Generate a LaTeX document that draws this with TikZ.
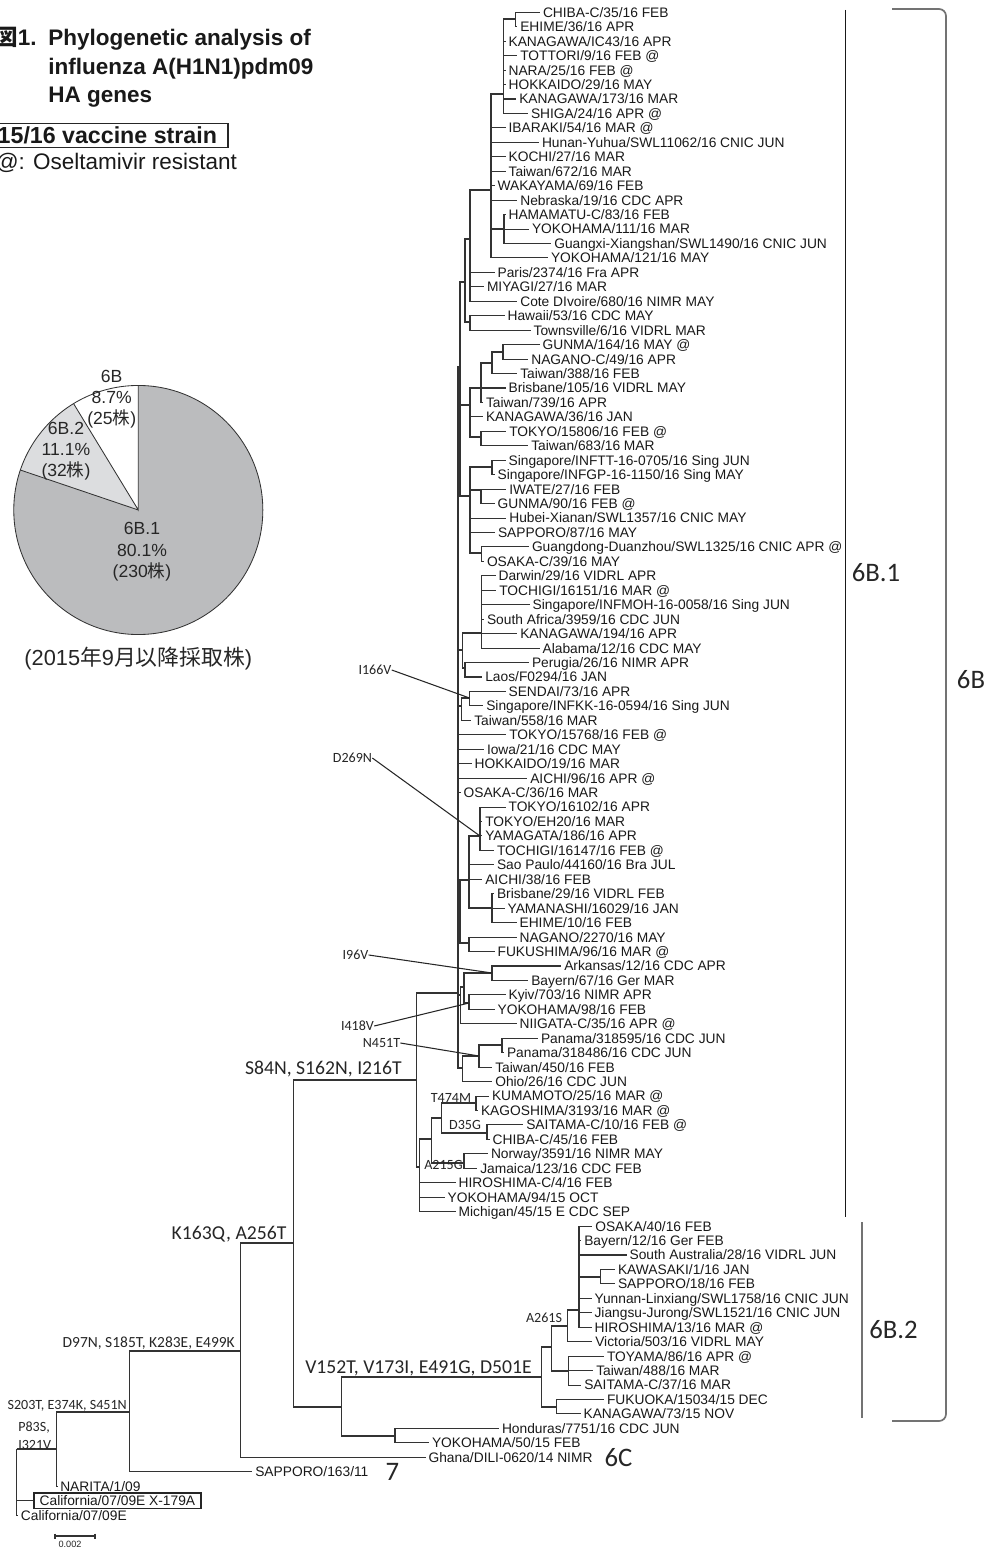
\documentclass[tikz,border=0pt]{standalone}
\usepackage{fontspec}
\setmainfont{Liberation Sans}
\newfontfamily\calibfont{Carlito}
\newfontfamily\jpfont{Noto Sans CJK JP}

\tikzset{
  branch/.style={draw=black!80, line width=0.75pt},
  leaf/.style={anchor=west, inner xsep=2pt, inner ysep=0pt, text height=7pt, text depth=0pt, text=black!90, font=\fontsize{9.8}{10}\selectfont},
  vacleaf/.style={leaf, draw=black!85, line width=1.1pt, inner xsep=4pt, inner ysep=2pt},
  vacbox/.style={draw=black!85, line width=1.1pt, anchor=east, inner xsep=8pt, inner ysep=2.5pt, text height=11.8pt, text depth=0pt, text=black!90, font=\bfseries\fontsize{16.5}{18}\selectfont},
  mutbig/.style={inner sep=0pt, text=black!85, font=\calibfont\fontsize{14}{16}\selectfont},
  mutmid/.style={inner sep=0pt, text=black!85, font=\calibfont\fontsize{11}{13}\selectfont},
  mutsmall/.style={inner sep=0pt, text=black!85, font=\calibfont\fontsize{10}{13}\selectfont},
  pointer/.style={draw=black!85, line width=0.75pt},
  cladelab/.style={inner sep=0pt, text=black!85, font=\calibfont\fontsize{19}{21}\selectfont},
  pielab/.style={inner sep=0pt, align=center, text=black!85, font=\fontsize{12.5}{15}\selectfont},
  titletext/.style={inner sep=0pt, anchor=base west, text=black!90, font=\bfseries\fontsize{16}{19}\selectfont},
}
\definecolor{pieone}{RGB}{187,188,190}
\definecolor{pietwo}{RGB}{220,221,223}

\begin{document}
\begin{tikzpicture}[x=0.025cm, y=-0.025cm]
  \useasboundingbox (0,0) rectangle (989,1549);

  \node[titletext, anchor=base east] (fig) at (37,46) {{\jpfont 図}1.};
  \node[titletext] (title1) at (48,46) {Phylogenetic analysis of};
  \node[titletext] (title2) at (48,75) {influenza A(H1N1)pdm09};
  \node[titletext] (title3) at (48,103) {HA genes};
  \node[vacbox] (vaccine) at (229,135.5) {15/16 vaccine strain};
  \node[anchor=west, inner sep=0pt, text=black!90, font=\fontsize{16}{18}\selectfont] (resist) at (-4.5,163) {@: Oseltamivir resistant};

  \begin{scope}[shift={(138.3,510)}, x=0.025cm, y=0.025cm, draw=black!80, line width=0.6pt]
    \fill[pieone] (0,0) -- (161.28:124.5) arc[start angle=161.28, end angle=450, radius=3.1125cm] -- cycle;
    \fill[pietwo] (0,0) -- (121.32:124.5) arc[start angle=121.32, end angle=161.28, radius=3.1125cm] -- cycle;
    \draw (0,0) circle[radius=3.1125cm];
    \draw (90:124.5) -- (0,0) -- (121.32:124.5) (0,0) -- (161.28:124.5);
  \end{scope}
  \node[pielab] (pie6b) at (111.7,399.5) {6B\\8.7\%\\(25{\jpfont 株})};
  \node[pielab] (pie6b2) at (66,450.8) {6B.2\\11.1\%\\(32{\jpfont 株})};
  \node[pielab] (pie6b1) at (142,551.7) {6B.1\\80.1\%\\(230{\jpfont 株})};
  \node[inner sep=0pt, text=black!85, font=\fontsize{15.5}{17}\selectfont] (piecap) at (138.3,658.3) {(2015{\jpfont 年}9{\jpfont 月以降採取株})};

  \foreach \i/\x/\s in {1/542.7/{CHIBA-C/35/16 FEB}, 2/520/{EHIME/36/16 APR}, 3/508.3/{KANAGAWA/IC43/16 APR},
      4/520/{TOTTORI/9/16 FEB @}, 5/508.3/{NARA/25/16 FEB @}, 6/508.3/{HOKKAIDO/29/16 MAY},
      7/519/{KANAGAWA/173/16 MAR}, 8/530.7/{SHIGA/24/16 APR @}, 9/508.3/{IBARAKI/54/16 MAR @},
      10/541.7/{Hunan-Yuhua/SWL11062/16 CNIC JUN}, 11/508.3/{KOCHI/27/16 MAR}, 12/508.3/{Taiwan/672/16 MAR},
      13/497.3/{WAKAYAMA/69/16 FEB}, 14/520/{Nebraska/19/16 CDC APR}, 15/508.3/{HAMAMATU-C/83/16 FEB},
      16/531.7/{YOKOHAMA/111/16 MAR}, 17/554/{Guangxi-Xiangshan/SWL1490/16 CNIC JUN}, 18/550.7/{YOKOHAMA/121/16 MAY},
      19/497.3/{Paris/2374/16 Fra APR}, 20/486.7/{MIYAGI/27/16 MAR}, 21/520/{Cote DIvoire/680/16 NIMR MAY},
      22/507.3/{Hawaii/53/16 CDC MAY}, 23/533.3/{Townsville/6/16 VIDRL MAR}, 24/542.3/{GUNMA/164/16 MAY @},
      25/531/{NAGANO-C/49/16 APR}, 26/520/{Taiwan/388/16 FEB}, 27/508.3/{Brisbane/105/16 VIDRL MAY},
      28/485.7/{Taiwan/739/16 APR}, 29/485.7/{KANAGAWA/36/16 JAN}, 30/509/{TOKYO/15806/16 FEB @},
      31/531/{Taiwan/683/16 MAR}, 32/508.3/{Singapore/INFTT-16-0705/16 Sing JUN}, 33/497.3/{Singapore/INFGP-16-1150/16 Sing MAY},
      34/509/{IWATE/27/16 FEB}, 35/497.3/{GUNMA/90/16 FEB @}, 36/509/{Hubei-Xianan/SWL1357/16 CNIC MAY},
      37/497.7/{SAPPORO/87/16 MAY}, 38/531.7/{Guangdong-Duanzhou/SWL1325/16 CNIC APR @}, 39/486.7/{OSAKA-C/39/16 MAY},
      40/498.3/{Darwin/29/16 VIDRL APR}, 41/499/{TOCHIGI/16151/16 MAR @}, 42/532.3/{Singapore/INFMOH-16-0058/16 Sing JUN},
      43/486.7/{South Africa/3959/16 CDC JUN}, 44/520/{KANAGAWA/194/16 APR}, 45/542.3/{Alabama/12/16 CDC MAY},
      46/531.7/{Perugia/26/16 NIMR APR}, 47/485/{Laos/F0294/16 JAN}, 48/508.3/{SENDAI/73/16 APR},
      49/486/{Singapore/INFKK-16-0594/16 Sing JUN}, 50/474/{Taiwan/558/16 MAR}, 51/509/{TOKYO/15768/16 FEB @},
      52/486.7/{Iowa/21/16 CDC MAY}, 53/474.3/{HOKKAIDO/19/16 MAR}, 54/530/{AICHI/96/16 APR @},
      55/463.3/{OSAKA-C/36/16 MAR}, 56/508.3/{TOKYO/16102/16 APR}, 57/485/{TOKYO/EH20/16 MAR},
      58/485/{YAMAGATA/186/16 APR}, 59/496.7/{TOCHIGI/16147/16 FEB @}, 60/496.7/{Sao Paulo/44160/16 Bra JUL},
      61/485/{AICHI/38/16 FEB}, 62/496.7/{Brisbane/29/16 VIDRL FEB}, 63/507.3/{YAMANASHI/16029/16 JAN},
      64/519.3/{EHIME/10/16 FEB}, 65/519.3/{NAGANO/2270/16 MAY}, 66/497.3/{FUKUSHIMA/96/16 MAR @},
      67/564/{Arkansas/12/16 CDC APR}, 68/531/{Bayern/67/16 Ger MAR}, 69/508.3/{Kyiv/703/16 NIMR APR},
      70/497.3/{YOKOHAMA/98/16 FEB}, 71/519.3/{NIIGATA-C/35/16 APR @}, 72/540.7/{Panama/318595/16 CDC JUN},
      73/506.7/{Panama/318486/16 CDC JUN}, 74/495/{Taiwan/450/16 FEB}, 75/495/{Ohio/26/16 CDC JUN},
      76/491.7/{KUMAMOTO/25/16 MAR @}, 77/480.7/{KAGOSHIMA/3193/16 MAR @}, 78/526/{SAITAMA-C/10/16 FEB @},
      79/492.3/{CHIBA-C/45/16 FEB}, 80/490.7/{Norway/3591/16 NIMR MAY}, 81/480/{Jamaica/123/16 CDC FEB},
      82/458.3/{HIROSHIMA-C/4/16 FEB}, 83/447.3/{YOKOHAMA/94/15 OCT}, 84/458.3/{Michigan/45/15 E CDC SEP},
      85/595/{OSAKA/40/16 FEB}, 86/584/{Bayern/12/16 Ger FEB}, 87/629.3/{South Australia/28/16 VIDRL JUN},
      88/617.7/{KAWASAKI/1/16 JAN}, 89/617.7/{SAPPORO/18/16 FEB}, 90/594.3/{Yunnan-Linxiang/SWL1758/16 CNIC JUN},
      91/594.3/{Jiangsu-Jurong/SWL1521/16 CNIC JUN}, 92/594.3/{HIROSHIMA/13/16 MAR @}, 93/595/{Victoria/503/16 VIDRL MAY},
      94/606.7/{TOYAMA/86/16 APR @}, 95/596/{Taiwan/488/16 MAR}, 96/584/{SAITAMA-C/37/16 MAR},
      97/606.7/{FUKUOKA/15034/15 DEC}, 98/583.3/{KANAGAWA/73/15 NOV}, 99/501.7/{Honduras/7751/16 CDC JUN},
      100/431.7/{YOKOHAMA/50/15 FEB}, 101/428.3/{Ghana/DILI-0620/14 NIMR}, 102/255/{SAPPORO/163/11},
      103/60/{NARITA/1/09}, 105/20.7/{California/07/09E}}
  {
    \node[leaf] (l\i) at ({\x-2.8},{12.3+(\i-1)*14.45}) {\s};
  }
  \node[vacleaf] (l104) at (33.3,{12.3+103*14.45}) {California/07/09E X-179A};

  \coordinate (n1) at (515.7,19);
  \coordinate (n2) at (503.3,94);
  \coordinate (n3) at (491,190);
  \coordinate (n4) at (504,229);
  \coordinate (nD) at (470,239);
  \coordinate (nHw) at (470,322);
  \coordinate (nC) at (465,282);
  \coordinate (nGun) at (503,352);
  \coordinate (nGunB) at (492,363);
  \coordinate (nGunC) at (481,388);
  \coordinate (nTok) at (481,437);
  \coordinate (nJ) at (470,405);
  \coordinate (nSing) at (492,467);
  \coordinate (nIW) at (481,490);
  \coordinate (nGD) at (481.7,553);
  \coordinate (nK) at (470,496);
  \coordinate (nI) at (460,367);
  \coordinate (nDar) at (481.7,633);
  \coordinate (nPer) at (465,668);
  \coordinate (nDP) at (462.5,650);
  \coordinate (nSen) at (469.5,698);
  \coordinate (nSenB) at (461.7,706);
  \coordinate (nTokB) at (480,836);
  \coordinate (nBris) at (492,908);
  \coordinate (nA) at (469,880);
  \coordinate (nNag) at (469,943);
  \coordinate (nB) at (460,912);
  \coordinate (nArk) at (492,973);
  \coordinate (nKy) at (469,1003);
  \coordinate (nAK) at (464,987);
  \coordinate (nN) at (460.7,995);
  \coordinate (nPan) at (502,1045);
  \coordinate (nPanB) at (479,1056);
  \coordinate (nO) at (462.7,1068);
  \coordinate (nS) at (458,993);
  \coordinate (nKum) at (476,1103);
  \coordinate (nSai) at (487,1133);
  \coordinate (nH) at (441.7,1118);
  \coordinate (nNor) at (464,1163);
  \coordinate (nG) at (431.7,1139);
  \coordinate (nF) at (419.3,1167);
  \coordinate (nE) at (416.7,1080);
  \coordinate (nKaw) at (600.7,1277);
  \coordinate (nP) at (579,1310);
  \coordinate (nV) at (567.3,1326);
  \coordinate (nToy) at (568.3,1371);
  \coordinate (nQ) at (551.7,1347);
  \coordinate (nFuk) at (556.7,1407);
  \coordinate (nR) at (541.7,1377);
  \coordinate (nHon) at (395,1436);
  \coordinate (nT) at (341.7,1407);
  \coordinate (nU) at (293.3,1243);
  \coordinate (nW) at (240.7,1351);
  \coordinate (nX) at (129.3,1412);
  \coordinate (nY) at (56.7,1449);
  \coordinate (root) at (16.7,1449);

  \foreach \p/\cs in {n1/{1,2}, n2/{3,...,8}, n3/{9,...,14,18}, n4/{15,16,17}, nD/{19,20,21}, nHw/{22,23},
      nGun/{24,25}, nGunB/{26}, nGunC/{27,28}, nJ/{29}, nTok/{30,31}, nSing/{32,33}, nIW/{34,35},
      nK/{36,37}, nGD/{38,39}, nDar/{40,...,45}, nPer/{46,47}, nSen/{48,49}, nSenB/{50}, nS/{51,...,55},
      nTokB/{56,...,59}, nA/{60,61}, nBris/{62,63,64}, nNag/{65,66}, nArk/{67,68}, nKy/{69,70}, nN/{71},
      nPan/{72,73}, nPanB/{74}, nO/{75}, nKum/{76,77}, nSai/{78,79}, nNor/{80,81}, nF/{82,83,84},
      nP/{85,86,87,90,91,92}, nKaw/{88,89}, nV/{93}, nToy/{94,95,96}, nFuk/{97,98}, nHon/{99,100},
      nW/{101}, nX/{102}, nY/{103}, root/{104,105}}
  {
    \foreach \c in \cs
      \draw[branch] (\p) |- (l\c.west);
  }
  \foreach \p/\c in {n2/n1, n3/n2, n3/n4, nD/n3, nC/nD, nC/nHw, nGunB/nGun, nGunC/nGunB, nJ/nGunC, nJ/nTok,
      nK/nSing, nK/nIW, nK/nGD, nI/nC, nI/nJ, nI/nK, nDP/nDar, nDP/nPer, nSenB/nSen, nA/nTokB, nA/nBris,
      nB/nA, nB/nNag, nAK/nArk, nAK/nKy, nN/nAK, nPanB/nPan, nO/nPanB, nS/nI, nS/nDP, nS/nSenB, nS/nB,
      nS/nN, nS/nO, nH/nKum, nH/nSai, nG/nH, nG/nNor, nF/nG, nE/nS, nE/nF, nP/nKaw, nV/nP, nQ/nV,
      nQ/nToy, nR/nQ, nR/nFuk, nT/nR, nT/nHon, nU/nE, nU/nT, nW/nU, nX/nW, nY/nX, root/nY}
    \draw[branch] (\p) |- (\c);

  \node[mutbig, anchor=base east] (mS84N) at (402,1074.5) {S84N, S162N, I216T};
  \node[mutbig, anchor=base east] (mK163Q) at (286.7,1239.5) {K163Q, A256T};
  \node[mutbig, anchor=base west] (mV152T) at (305,1373.5) {V152T, V173I, E491G, D501E};
  \node[mutmid, anchor=base east] (mD97N) at (235,1347.5) {D97N, S185T, K283E, E499K};
  \node[mutsmall, anchor=base east] (mS203T) at (127,1409.5) {S203T, E374K, S451N};
  \node[mutsmall, anchor=base west, align=left] (mP83S) at (18,1449.5) {P83S,\\I321V};
  \node[mutsmall] (mT474M) at (451,1098) {T474M};
  \node[mutsmall] (mD35G) at (465,1125) {D35G};
  \node[mutsmall] (mA215G) at (443.5,1165) {A215G};
  \node[mutsmall] (mA261S) at (544,1318) {A261S};
  \node[mutsmall] (mI166V) at (375,670) {I166V};
  \node[mutsmall] (mD269N) at (352.5,758) {D269N};
  \node[mutsmall] (mI96V) at (355.5,955) {I96V};
  \node[mutsmall] (mI418V) at (357.5,1026) {I418V};
  \node[mutsmall] (mN451T) at (381.5,1043) {N451T};
  \draw[pointer] (mI166V.east) -- (nSen);
  \draw[pointer] (mD269N.east) -- (nTokB);
  \draw[pointer] (mI96V.east) -- (nArk);
  \draw[pointer] (mI418V.east) -- (nKy);
  \draw[pointer] (mN451T.east) -- (nPanB);

  \draw[draw=black!90, line width=1.1pt] (845.5,10) -- (845.5,1217);
  \draw[draw=black!55, line width=1.4pt] (862,1222) -- (862,1418);
  \draw[draw=black!55, line width=1.2pt, rounded corners=5pt] (892,9) -- (946,9) -- (946,1421) -- (892,1421);
  \node[cladelab] (c6b1) at (876,573) {6B.1};
  \node[cladelab] (c6b2) at (893.5,1330) {6B.2};
  \node[cladelab] (c6b) at (971,680) {6B};
  \node[cladelab] (c6c) at (618.5,1458) {6C};
  \node[cladelab] (c7) at (392.5,1472) {7};

  \draw[branch] (55,1536) -- (95,1536) (55,1533.5) -- (55,1538.5) (95,1533.5) -- (95,1538.5);
  \node[inner sep=0pt, text=black!85, font=\fontsize{6.5}{7}\selectfont] (scale) at (70,1544) {0.002};
\end{tikzpicture}
\end{document}
